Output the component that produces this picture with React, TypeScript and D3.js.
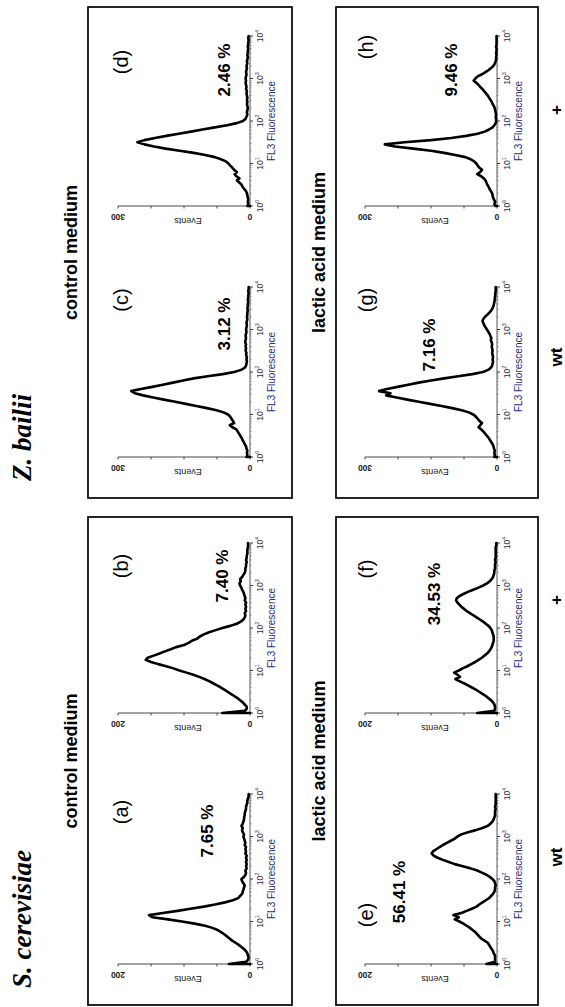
import React from "react";
import * as d3 from "d3";

const WIDTH = 565;
const HEIGHT = 1007;

// FL3 histogram counts: one value per 0.05-decade bin, from 10^0 to 10^4
const BIN_WIDTH = 0.05;

const countsA = [
  32, 6, 3, 2, 3, 4, 6, 9, 13, 17,
  22, 27, 31, 35, 39, 44, 49, 57, 68, 84,
  103, 124, 148, 153, 132, 110, 90, 70, 53, 38,
  26, 18, 15, 12, 11, 10, 9, 8, 10, 12,
  13, 9, 7, 6, 7, 5, 6, 5, 6, 5,
  6, 5, 7, 6, 7, 6, 8, 7, 8, 9,
  10, 9, 11, 12, 11, 13, 11, 10, 9, 9,
  8, 8, 7, 6, 6, 5, 4, 4, 3, 2,
  2,
];
const countsB = [
  42, 8, 5, 5, 8, 11, 15, 19, 24, 29,
  34, 39, 44, 50, 56, 62, 69, 77, 86, 96,
  107, 116, 127, 139, 150, 158, 155, 146, 137, 129,
  120, 112, 100, 93, 88, 80, 76, 70, 62, 52,
  42, 30, 20, 14, 10, 8, 7, 8, 6, 7,
  6, 7, 6, 8, 7, 8, 9, 10, 12, 13,
  15, 16, 14, 15, 12, 10, 8, 7, 7, 6,
  6, 5, 6, 5, 5, 4, 4, 4, 3, 3,
  3,
];
const countsC = [
  8, 6, 7, 6, 8, 9, 12, 14, 17, 19,
  22, 25, 28, 31, 40, 46, 36, 39, 42, 45,
  50, 60, 76, 98, 122, 146, 170, 196, 220, 243,
  262, 270, 248, 222, 198, 175, 152, 128, 96, 62,
  36, 20, 12, 9, 8, 7, 8, 7, 9, 8,
  10, 9, 10, 9, 11, 10, 9, 10, 9, 8,
  9, 8, 7, 8, 7, 6, 7, 6, 6, 5,
  6, 5, 5, 4, 5, 4, 4, 3, 4, 3,
  3,
];
const countsD = [
  6, 4, 5, 4, 5, 6, 7, 9, 13, 17,
  19, 24, 30, 24, 31, 35, 30, 36, 40, 45,
  49, 55, 66, 80, 102, 128, 160, 192, 218, 240,
  256, 240, 216, 190, 162, 134, 108, 80, 52, 30,
  16, 10, 8, 6, 7, 6, 5, 6, 7, 6,
  7, 6, 7, 8, 7, 9, 8, 9, 10, 9,
  10, 9, 8, 9, 8, 7, 8, 6, 7, 6,
  5, 6, 5, 5, 4, 5, 4, 4, 3, 4,
  3,
];
const countsE = [
  16, 3, 3, 3, 3, 5, 6, 8, 10, 12,
  14, 19, 24, 27, 30, 33, 37, 41, 46, 51,
  57, 64, 58, 66, 54, 46, 38, 31, 27, 22,
  17, 12, 9, 6, 4, 3, 3, 2, 3, 4,
  7, 11, 16, 23, 30, 40, 52, 64, 73, 82,
  90, 96, 99, 97, 92, 87, 82, 76, 70, 64,
  60, 54, 44, 32, 22, 14, 10, 7, 5, 4,
  3, 3, 3, 2, 3, 2, 2, 2, 2, 2,
  2,
];
const countsF = [
  30, 4, 3, 3, 4, 6, 9, 13, 17, 22,
  27, 32, 38, 44, 50, 57, 63, 56, 60, 65,
  58, 52, 45, 39, 33, 28, 23, 19, 15, 12,
  10, 8, 7, 6, 5, 5, 5, 6, 7, 8,
  10, 13, 17, 21, 26, 31, 36, 41, 46, 50,
  54, 57, 60, 62, 61, 57, 51, 44, 36, 28,
  21, 15, 11, 8, 6, 5, 4, 4, 3, 3,
  3, 2, 3, 2, 2, 2, 2, 2, 2, 1,
  1,
];
const countsG = [
  6, 5, 6, 5, 7, 8, 10, 13, 16, 19,
  23, 27, 31, 36, 42, 38, 34, 40, 44, 48,
  54, 64, 80, 102, 126, 152, 178, 204, 228, 252,
  242, 268, 250, 226, 202, 178, 150, 120, 88, 56,
  32, 20, 14, 11, 10, 9, 10, 9, 10, 11,
  10, 11, 12, 11, 12, 14, 13, 15, 17, 20,
  23, 26, 29, 31, 33, 31, 27, 22, 17, 13,
  10, 8, 7, 6, 5, 5, 4, 4, 3, 3,
  3,
];
const countsH = [
  4, 6, 4, 7, 9, 10, 11, 14, 17, 19,
  22, 24, 26, 30, 36, 45, 38, 34, 40, 44,
  47, 52, 60, 72, 95, 120, 150, 190, 232, 255,
  210, 150, 104, 70, 44, 28, 18, 10, 6, 3,
  2, 2, 3, 2, 3, 4, 5, 7, 10, 12,
  15, 18, 21, 25, 29, 33, 38, 42, 47, 53,
  49, 44, 34, 26, 19, 13, 8, 5, 3, 2,
  2, 1, 2, 1, 1, 2, 1, 1, 1, 1,
  1,
];

const panelCounts = [countsA, countsB, countsC, countsD, countsE, countsF, countsG, countsH];
const panelIds = ["(a)", "(b)", "(c)", "(d)", "(e)", "(f)", "(g)", "(h)"];
const percentLabels = ["7.65 %", "7.40 %", "3.12 %", "2.46 %", "56.41 %", "34.53 %", "7.16 %", "9.46 %"];
const yMaxima = [200, 200, 300, 300, 200, 200, 300, 300];
const speciesLabels = ["S. cerevisiae", "Z. bailii"];
const mediumLabels = ["control medium", "lactic acid medium"];
const strainLabels = ["wt", "+"];
const decades = [0, 1, 2, 3, 4];

// ---- layout (unrotated frame: u runs along the figure, v across it) ----
const GROUP_U: [number, number][] = [[2, 490], [509, 1000]];
const ROW_V: [number, number][] = [[88, 292], [336, 538]];
const AXIS_OFFSET = [41, 292];
const AXIS_LEN = 170;
const PLOT_V: { top: number; base: number }[] = [
  { top: 118, base: 250 },
  { top: 365, base: 497 },
];
// panel annotation anchors (u centre, v baseline)
const ID_POS: [number, number][] = [
  [195, 128], [441, 128], [707, 128], [945, 128],
  [92, 373], [438, 373], [707, 373], [960, 373],
];
const PCT_POS: [number, number][] = [
  [176, 213], [431, 228], [683, 230], [937, 230],
  [115, 405], [413, 440], [662, 435], [937, 457],
];
const STRAIN_U = [150, 407, 650, 897];

const SANS = "'Liberation Sans', Arial, Helvetica, sans-serif";
const SERIF = "'Liberation Serif', 'Times New Roman', serif";

type HistProps = { counts: number[]; yMax: number; u0: number; top: number; base: number };

function Histogram({ counts, yMax, u0, top, base }: HistProps) {
  const x = d3.scaleLog().domain([1, 1e4]).range([u0, u0 + AXIS_LEN]);
  const y = d3.scaleLinear().domain([0, yMax]).range([base, top]);
  const pts: [number, number][] = [[1, 0], ...counts.map((c, i) => [Math.pow(10, i * BIN_WIDTH), c] as [number, number])];
  const path = d3.line<[number, number]>().x((d) => x(d[0])).y((d) => y(d[1]))(pts) || "";
  const minor = x.ticks().filter((t) => !decades.some((k) => Math.abs(Math.pow(10, k) - t) < 1e-9));
  const yTicks = d3.range(0, yMax + 1, yMax / 4);
  const mid = (top + base) / 2;
  return (
    <g>
      {/* x axis */}
      <line x1={x(1)} x2={x(1e4)} y1={base} y2={base} stroke="#444" strokeWidth={0.9} />
      {minor.map((t) => (
        <line key={"m" + t} x1={x(t)} x2={x(t)} y1={base} y2={base + 1.6} stroke="#666" strokeWidth={0.7} />
      ))}
      {decades.map((k) => (
        <g key={"d" + k}>
          <line x1={x(Math.pow(10, k))} x2={x(Math.pow(10, k))} y1={base} y2={base + 3} stroke="#222" strokeWidth={0.9} />
          <text x={x(Math.pow(10, k))} y={base + 12.5} textAnchor="middle" fontFamily={SANS} fontSize={8.5} fill="#2a2a40">
            10<tspan dy={-3.5} fontSize={5.5}>{k}</tspan>
          </text>
        </g>
      ))}
      <text x={u0 + AXIS_LEN / 2} y={base + 25} textAnchor="middle" fontFamily={SANS} fontSize={10} fill="#1f2d7a">
        FL3 Fluorescence
      </text>
      {/* y axis */}
      <line x1={x(1)} x2={x(1)} y1={base} y2={top} stroke="#333" strokeWidth={0.9} />
      {yTicks.map((t) => (
        <line key={"y" + t} x1={x(1) - 2.5} x2={x(1)} y1={y(t)} y2={y(t)} stroke="#333" strokeWidth={0.9} />
      ))}
      <text transform={`translate(${x(1) - 8},${y(0)}) rotate(-90)`} textAnchor="middle" fontFamily={SANS} fontSize={8.5} fontWeight="bold" fill="#222">
        0
      </text>
      <text transform={`translate(${x(1) - 8},${y(yMax)}) rotate(-90)`} textAnchor="middle" fontFamily={SANS} fontSize={8.5} fontWeight="bold" fill="#222">
        {yMax}
      </text>
      <text transform={`translate(${x(1) - 12},${mid + 4}) rotate(-90)`} textAnchor="middle" fontFamily={SANS} fontSize={9} fill="#222">
        Events
      </text>
      {/* histogram trace */}
      <path d={path} fill="none" stroke="#000" strokeWidth={2.6} strokeLinejoin="round" strokeLinecap="round" />
    </g>
  );
}

export default function App() {
  const panels = panelIds.map((id, i) => {
    const row = i < 4 ? 0 : 1;
    const group = Math.floor((i % 4) / 2);
    const slot = i % 2;
    return { id, i, row, group, slot };
  });
  return (
    <svg width={WIDTH} height={HEIGHT} style={{ position: "absolute", left: 0, top: 0, background: "#fff" }}>
      <rect width={WIDTH} height={HEIGHT} fill="#fff" />
      <g transform={`translate(0,${HEIGHT}) rotate(-90)`}>
        {speciesLabels.map((s, gi) => (
          <text key={s} x={GROUP_U[gi][0] + 17} y={31} fontFamily={SERIF} fontStyle="italic" fontWeight="bold" fontSize={27} fill="#000">
            {s}
          </text>
        ))}
        {mediumLabels.map((m, ri) =>
          GROUP_U.map((g, gi) => (
            <text key={m + gi} x={(g[0] + g[1]) / 2} y={ri === 0 ? 77 : 325} textAnchor="middle" fontFamily={SANS} fontWeight="bold" fontSize={18} fill="#000">
              {m}
            </text>
          ))
        )}
        {ROW_V.map((r, ri) =>
          GROUP_U.map((g, gi) => (
            <rect key={`box${ri}${gi}`} x={g[0]} y={r[0]} width={g[1] - g[0]} height={r[1] - r[0]} fill="none" stroke="#000" strokeWidth={1.7} />
          ))
        )}
        {panels.map((p) => {
          const u0 = GROUP_U[p.group][0] + AXIS_OFFSET[p.slot];
          return (
            <g key={p.id}>
              <Histogram counts={panelCounts[p.i]} yMax={yMaxima[p.i]} u0={u0} top={PLOT_V[p.row].top} base={PLOT_V[p.row].base} />
              <text x={ID_POS[p.i][0]} y={ID_POS[p.i][1]} textAnchor="middle" fontFamily={SANS} fontSize={20} fill="#000">
                {p.id}
              </text>
              <text x={PCT_POS[p.i][0]} y={PCT_POS[p.i][1]} textAnchor="middle" fontFamily={SANS} fontWeight="bold" fontSize={17} fill="#000">
                {percentLabels[p.i]}
              </text>
            </g>
          );
        })}
        {STRAIN_U.map((u, k) => (
          <text key={"s" + k} x={u} y={562} textAnchor="middle" fontFamily={SANS} fontWeight="bold" fontSize={17} fill="#000">
            {strainLabels[k % 2]}
          </text>
        ))}
      </g>
    </svg>
  );
}
